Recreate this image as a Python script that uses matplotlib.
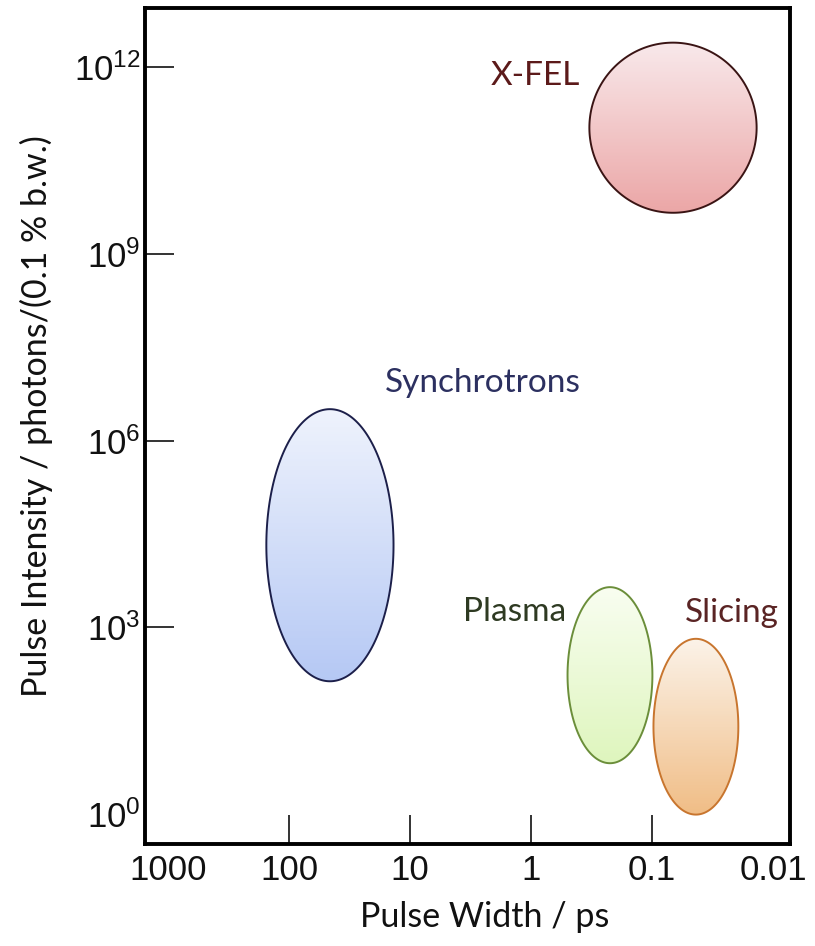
import numpy as np
import matplotlib.pyplot as plt
from matplotlib.patches import Polygon
from matplotlib.colors import LinearSegmentedColormap

plt.rcParams['mathtext.fontset'] = 'custom'
plt.rcParams['mathtext.rm'] = 'Liberation Sans'
plt.rcParams['mathtext.it'] = 'Liberation Sans'

# light sources: pulse width range (ps) and pulse intensity range (photons/0.1% bw)
sources = ['X-FEL', 'Synchrotrons', 'Plasma', 'Slicing']
pw_min = [0.0137, 13.7, 0.0995, 0.0194]
pw_max = [0.33, 154, 0.50, 0.0975]
int_min = [4.6e9, 135, 6.5, 0.97]
int_max = [2.5e12, 3.2e6, 4400, 650]

x_ticks = [1000, 100, 10, 1, 0.1, 0.01]
x_ticklabels = ['1000', '100', '10', '1', '0.1', '0.01']
y_ticks = [1e0, 1e3, 1e6, 1e9, 1e12]
y_ticklabels = [r'$\mathregular{10^{0}}$', r'$\mathregular{10^{3}}$', r'$\mathregular{10^{6}}$',
                r'$\mathregular{10^{9}}$', r'$\mathregular{10^{12}}$']

# styling
fill_top = ['#f8e8ea', '#eef2fc', '#f8fdf0', '#fbf2e8']
fill_bot = ['#eba6a6', '#b5c8f4', '#def5bd', '#f0bd86']
edge_col = ['#3a1414', '#1c1f4a', '#6b8e3a', '#c8752e']
text_col = ['#5c1a1a', '#2c3060', '#2e3a22', '#5a2424']
label_x = [0.93, 2.5, 1.36, 0.022]
label_y = [7.3e11, 8.4e6, 1750, 1700]

fig = plt.figure(figsize=(8.15, 9.46), dpi=100)
ax = fig.add_axes([145/815, 102/946, 645/815, 836/946])
ax.set_xscale('log')
ax.set_yscale('log')
ax.set_xlim(1549, 0.00726)
ax.set_ylim(10**-0.486, 10**12.955)

th = np.linspace(0, 2*np.pi, 300)
for i in range(len(sources)):
    lx0, lx1 = np.log10(pw_min[i]), np.log10(pw_max[i])
    ly0, ly1 = np.log10(int_min[i]), np.log10(int_max[i])
    cx, rx = (lx0+lx1)/2, (lx1-lx0)/2
    cy, ry = (ly0+ly1)/2, (ly1-ly0)/2
    ex = 10**(cx + rx*np.cos(th))
    ey = 10**(cy + ry*np.sin(th))

    # vertical gradient fill clipped to the ellipse
    cmap = LinearSegmentedColormap.from_list('g%d' % i, [fill_bot[i], fill_top[i]])
    ye = 10**np.linspace(ly0, ly1, 121)
    xe = np.array([pw_min[i], pw_max[i]])
    c = np.linspace(0, 1, 120).reshape(-1, 1)
    mesh = ax.pcolormesh(xe, ye, c, cmap=cmap, shading='flat', zorder=2)
    poly = Polygon(np.column_stack([ex, ey]), closed=True, transform=ax.transData,
                   facecolor='none', edgecolor=edge_col[i], lw=1.4, zorder=3)
    ax.add_patch(poly)
    mesh.set_clip_path(poly)

    ax.text(label_x[i], label_y[i], sources[i], color=text_col[i], fontsize=24,
            family='Lato', ha='center', va='center')

ax.set_xticks(x_ticks)
ax.set_xticklabels(x_ticklabels)
ax.set_yticks(y_ticks)
ax.set_yticklabels(y_ticklabels)
ax.minorticks_off()
ax.tick_params(axis='both', direction='in', length=21, width=1.2, labelsize=25,
               colors='#111111')
ax.tick_params(axis='x', pad=7)
ax.tick_params(axis='y', pad=3)
for lab in ax.get_xticklabels():
    lab.set_family('Liberation Sans')
for lab in ax.get_yticklabels():
    lab.set_family('Liberation Sans')
# no tick marks at the corners
xt = ax.xaxis.get_major_ticks()
xt[0].tick1line.set_visible(False)
xt[-1].tick1line.set_visible(False)
ax.yaxis.get_major_ticks()[0].tick1line.set_visible(False)

for s in ax.spines.values():
    s.set_linewidth(2.8)
    s.set_color('black')

ax.set_xlabel('Pulse Width / ps', fontsize=24.5, family='Lato', color='#111111')
ax.set_ylabel('Pulse Intensity / photons/(0.1 % b.w.)', fontsize=24.5, family='Lato',
              color='#111111')
ax.xaxis.set_label_coords(0.527, -0.068)
ax.yaxis.set_label_coords(-0.143, 0.512)

plt.savefig('out.png', dpi=100)
